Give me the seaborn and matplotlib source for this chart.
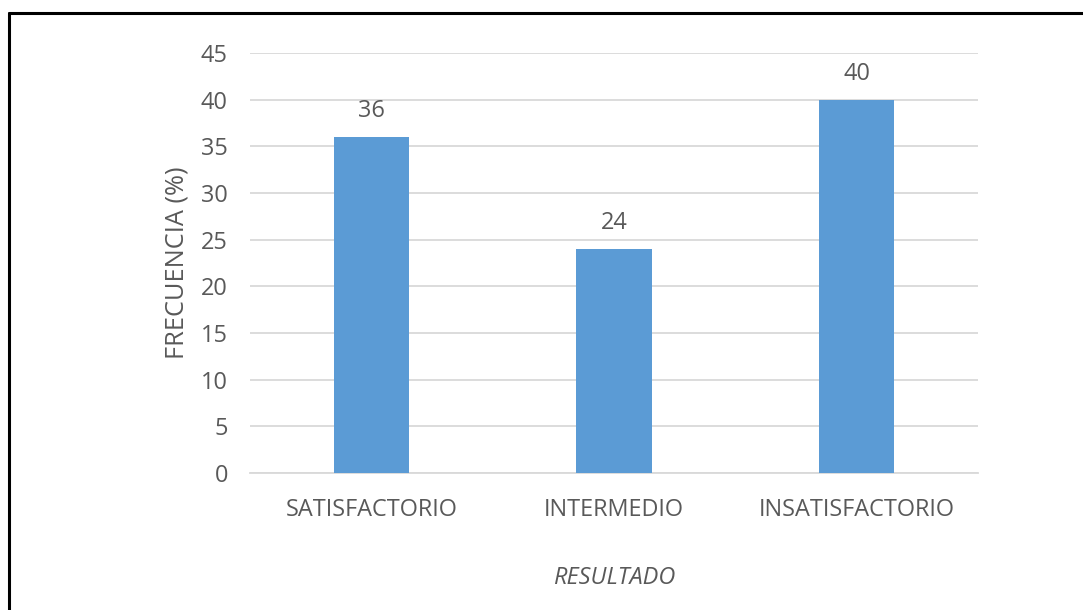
import matplotlib
matplotlib.use("Agg")
import matplotlib.pyplot as plt
import seaborn as sns
import pandas as pd
from matplotlib.lines import Line2D

categories = ["SATISFACTORIO", "INTERMEDIO", "INSATISFACTORIO"]
values = [36, 24, 40]
yticks = [0, 5, 10, 15, 20, 25, 30, 35, 40, 45]

sns.set_theme(style="white")
plt.rcParams["font.family"] = ["Open Sans", "DejaVu Sans"]

TXT = "#595959"
FS = 16.9
df = pd.DataFrame({"cat": categories, "val": values})

fig = plt.figure(figsize=(10.83, 6.10), dpi=100)
ax = fig.add_axes([250/1083, 1 - 473/610, 728/1083, 420/610])

sns.barplot(data=df, x="cat", y="val", color="#5B9BD5", width=0.31,
            saturation=1, ax=ax, zorder=3, linewidth=0)

ax.set_ylim(0, 45)
ax.set_yticks(yticks)
ax.set_xlim(-0.5, 2.5)
ax.yaxis.grid(True, color="#D9D9D9", linewidth=1.3, zorder=0)
ax.set_axisbelow(True)
for s in ["top", "right", "left"]:
    ax.spines[s].set_visible(False)
ax.spines["bottom"].set_color("#D9D9D9")
ax.spines["bottom"].set_linewidth(1.3)
ax.tick_params(axis="both", length=0, colors=TXT, labelsize=FS)
ax.tick_params(axis="y", pad=16)
ax.tick_params(axis="x", pad=18)

for i, v in enumerate(values):
    ax.annotate(f"{v}", (i, v), xytext=(0, 10), textcoords="offset points",
                ha="center", va="bottom", color=TXT, fontsize=FS)

ax.set_xlabel("RESULTADO", fontstyle="italic", color=TXT, fontsize=FS, labelpad=32)
ax.set_ylabel("FRECUENCIA (%)", color=TXT, fontsize=18.3, labelpad=8)

# figure border (left and top)
x0 = 9 / 1083
y0 = 1 - 13 / 610
fig.add_artist(Line2D([x0, x0], [0, y0], transform=fig.transFigure, color="black", linewidth=2.2))
fig.add_artist(Line2D([x0, 1], [y0, y0], transform=fig.transFigure, color="black", linewidth=2.2))

fig.savefig("out.png", dpi=100)
